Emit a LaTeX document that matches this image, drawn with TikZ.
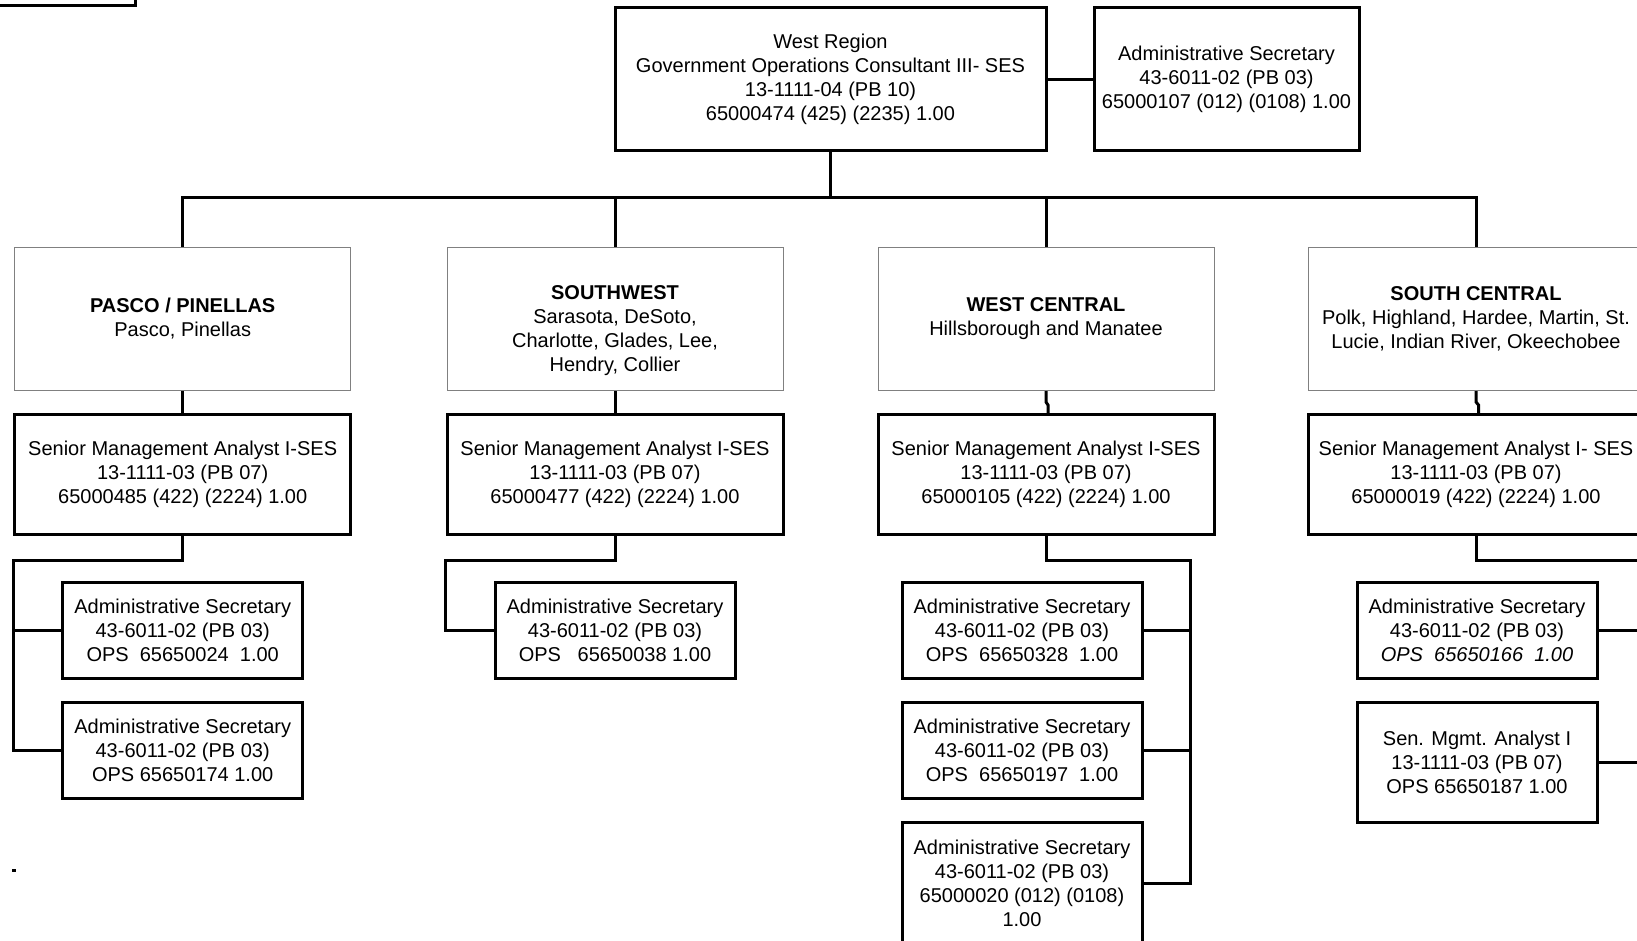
\documentclass[tikz,border=0pt]{standalone}
\usepackage{fontspec}
\setmainfont{Liberation Sans}
\begin{document}
\begin{tikzpicture}[x=0.5pt,y=-0.5pt,
  every node/.style={font=\fontsize{10pt}{12pt}\selectfont, align=center, inner sep=0pt},
  posbox/.style={draw=black, line width=1.5pt, rectangle},
  regbox/.style={draw=black!50, line width=0.5pt, rectangle, minimum width=168pt, minimum height=71.5pt},
  smabox/.style={posbox, minimum width=168pt, minimum height=60pt},
  secbox/.style={posbox, minimum width=120pt, minimum height=48pt},
  conn/.style={line width=1.5pt, line join=miter}]
\useasboundingbox (0,0) rectangle (1637,941);
\clip (0,0) rectangle (1637,941);
\fill[white] (0,0) rectangle (1637,941);

% box continuing above the page
\node[posbox, minimum width=117.5pt, minimum height=52.75pt] (prev) at (17.5,-47.25) {};

% region head and its secretary
\node[posbox, minimum width=215.5pt, minimum height=71.5pt] (head) at (830.5,79.5)
  {West Region\\Government Operations Consultant III- SES\\13-1111-04 (PB 10)\\65000474 (425) (2235) 1.00};
\node[posbox, minimum width=132.5pt, minimum height=71.5pt] (headsec) at (1226.5,79.5)
  {Administrative Secretary\\43-6011-02 (PB 03)\\65000107 (012) (0108) 1.00};
\draw[conn] (head.east) -- (headsec.west);

% areas
\node[regbox] (r1) at (182.7,319) {\textbf{PASCO / PINELLAS}\\Pasco, Pinellas};
\node[regbox] (r2) at (615,319) {};
\node (r2t) at ([yshift=-6pt]r2.center) {\textbf{SOUTHWEST}\\Sarasota, DeSoto,\\Charlotte, Glades, Lee,\\Hendry, Collier};
\node[regbox] (r3) at (1046,319) {\textbf{WEST CENTRAL}\\Hillsborough and Manatee};
\node[regbox] (r4) at (1476,319) {\textbf{SOUTH CENTRAL}\\Polk, Highland, Hardee, Martin, St.\\Lucie, Indian River, Okeechobee};

\coordinate (bus) at (830.5,198);
\draw[conn] (head.south) -- (bus);
\draw[conn] (r1.north) |- (bus) -| (r4.north);
\draw[conn] (r2.north) -- (r2.north |- bus);
\draw[conn] (r3.north) -- (r3.north |- bus);

% senior management analysts
\node[smabox] (s1) at (182.7,474.5) {Senior Management Analyst I-SES\\13-1111-03 (PB 07)\\65000485 (422) (2224) 1.00};
\node[smabox] (s2) at (615,474.5) {Senior Management Analyst I-SES\\13-1111-03 (PB 07)\\65000477 (422) (2224) 1.00};
\node[smabox] (s3) at (1046,474.5) {Senior Management Analyst I-SES\\13-1111-03 (PB 07)\\65000105 (422) (2224) 1.00};
\node[smabox] (s4) at (1476,474.5) {Senior Management Analyst I- SES\\13-1111-03 (PB 07)\\65000019 (422) (2224) 1.00};
\draw[conn] (r1.south) -- (s1.north);
\draw[conn] (r2.south) -- (s2.north);
\draw[conn] (r3.south) -- ++(0,11) -- ++(2,3) -- ++(0,10);
\draw[conn] (r4.south) -- ++(0,11) -- ++(2.5,3) -- ++(0,10);

% Pasco / Pinellas staff
\node[secbox] (a1) at (182.7,630.6) {Administrative Secretary\\43-6011-02 (PB 03)\\OPS\ \ 65650024\ \ 1.00};
\node[secbox] (a2) at (182.7,750.6) {Administrative Secretary\\43-6011-02 (PB 03)\\OPS 65650174 1.00};
\coordinate (j1) at (13.6,560.6);
\draw[conn] (s1.south) |- (j1) -- (j1 |- a2.west) -- (a2.west);
\draw[conn] (j1 |- a1.west) -- (a1.west);

% Southwest staff
\node[secbox] (b1) at (615,630.6) {Administrative Secretary\\43-6011-02 (PB 03)\\OPS\ \ \ 65650038 1.00};
\coordinate (j2) at (445.8,560.6);
\draw[conn] (s2.south) |- (j2) |- (b1.west);

% West Central staff
\node[secbox] (c1) at (1022,630.6) {Administrative Secretary\\43-6011-02 (PB 03)\\OPS\ \ 65650328\ \ 1.00};
\node[secbox] (c2) at (1022,750.6) {Administrative Secretary\\43-6011-02 (PB 03)\\OPS\ \ 65650197\ \ 1.00};
\node[posbox, minimum width=120pt, minimum height=60.7pt] (c3) at (1022,883.4) {Administrative Secretary\\43-6011-02 (PB 03)\\65000020 (012) (0108)\\1.00};
\coordinate (j3) at (1190,560.6);
\draw[conn] (s3.south) |- (j3) -- (j3 |- c3.east) -- (c3.east);
\draw[conn] (j3 |- c1.east) -- (c1.east);
\draw[conn] (j3 |- c2.east) -- (c2.east);

% South Central staff
\node[secbox] (d1) at (1477,630.6) {Administrative Secretary\\43-6011-02 (PB 03)\\\textit{OPS\ \ 65650166\ \ 1.00}};
\node[posbox, minimum width=120pt, minimum height=60pt] (d2) at (1477,762.6) {Sen. Mgmt. Analyst I\\13-1111-03 (PB 07)\\OPS 65650187 1.00};
\coordinate (j4) at (1660,560.6);
\draw[conn] (s4.south) |- (j4);
\draw[conn] (d1.east) -- (d1.east -| j4);
\draw[conn] (d2.east) -- (d2.east -| j4);

% stray mark
\fill (12,868.5) rectangle (16,871.5);
\end{tikzpicture}
\end{document}
